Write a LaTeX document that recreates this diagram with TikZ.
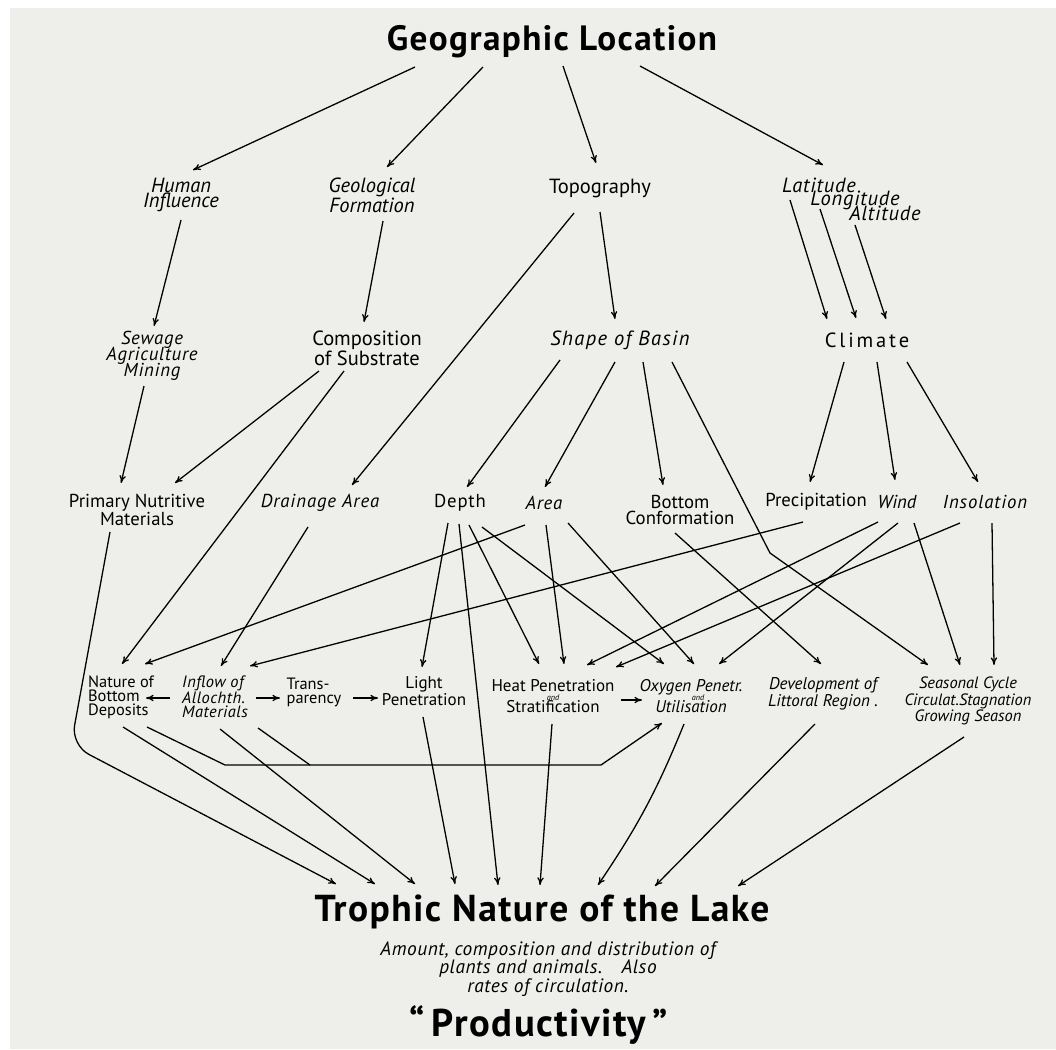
\documentclass[tikz,border=0pt]{standalone}
\usepackage{fontspec}
\setmainfont{PT Sans}
\usetikzlibrary{arrows.meta}

\definecolor{paper}{RGB}{238,238,235}
\newcommand{\tightlines}{\lineskiplimit -20pt\relax}

\tikzset{
  conn/.style={->, line width=1.1pt},
  head/.style={font=\fontsize{#1}{30}\selectfont\bfseries\addfontfeature{LetterSpace=4}, inner sep=0pt},
  lvl/.style={font=\fontsize{17.5}{13.5}\selectfont#1, align=center, inner sep=0pt},
  lvl/.default={},
  mid/.style={font=\fontsize{16}{13}\selectfont#1, align=center, inner sep=0pt},
  mid/.default={},
  low/.style={font=\fontsize{14.5}{12.5}\selectfont#1, align=center, inner sep=0pt},
  low/.default={},
  lowleft/.style={font=\fontsize{14}{12}\selectfont#1, align=left, inner sep=0pt},
  lowleft/.default={}
}

\begin{document}
\begin{tikzpicture}[x=0.3mm, y=-0.3mm, >={To[length=6.5pt,width=5.5pt]}]
  \useasboundingbox (0,0) rectangle (1056,1049);
  \fill[white] (0,0) rectangle (1056,1049);
  \fill[paper] (10,8) rectangle (1056,1049);

  % top
  \node[head=30] (geo) at (552,42) {Geographic Location};

  % second row
  \node[lvl=\itshape] (human) at (181,195) {Human\\Influence};
  \node[lvl=\itshape] (geol) at (372,195) {Geological\\Formation};
  \node[lvl] (topo) at (600,188) {Topography};
  \node[lvl=\itshape\addfontfeature{LetterSpace=4}] (lat) at (819,185) {Latitude};
  \node[lvl=\itshape\addfontfeature{LetterSpace=4}] (lon) at (855,200) {Longitude};
  \node[lvl=\itshape\addfontfeature{LetterSpace=4}] (alt) at (885,213) {Altitude};

  % third row
  \node[lvl, font={\fontsize{16}{13.5}\selectfont\itshape\addfontfeature{LetterSpace=4}\tightlines}] (sewage) at (152,356) {Sewage\\Agriculture\\Mining};
  \node[lvl] (comp) at (367,348) {Composition\\of Substrate};
  \node[lvl=\itshape\addfontfeature{LetterSpace=7}] (shape) at (620,340) {Shape of Basin};
  \node[lvl=\addfontfeature{LetterSpace=14}] (climate) at (867,340) {Climate};

  % fourth row
  \node[mid] (primary) at (137,510) {Primary Nutritive\\Materials};
  \node[mid=\itshape\addfontfeature{LetterSpace=5}] (drain) at (320,503) {Drainage Area};
  \node[mid=\addfontfeature{LetterSpace=4}] (depth) at (460,503) {Depth};
  \node[mid=\itshape\addfontfeature{LetterSpace=4}] (area) at (544,503) {Area};
  \node[mid] (bottom) at (680,510) {Bottom\\Conformation};
  \node[mid] (precip) at (816,502) {Precipitation};
  \node[mid=\itshape] (wind) at (897,502) {Wind};
  \node[mid=\itshape\addfontfeature{LetterSpace=5}] (insol) at (985,502) {Insolation};

  % fifth row
  \node[lowleft] (nature) at (121,697) {Nature of\\Bottom\\Deposits};
  \node[lowleft=\itshape\addfontfeature{LetterSpace=3}] (inflow) at (215,697) {Inflow of\\Allochth.\\Materials};
  \node[lowleft] (transp) at (314,692) {Trans-\\parency};
  \node[low] (light) at (424,691) {Light\\Penetration};
  \node[low] (heat) at (553,696) {Heat Penetration\\[-5pt]{\fontsize{7}{7}\selectfont\itshape and}\\[-2.5pt]Stratification};
  \node[low=\itshape] (oxy) at (691,696) {Oxygen Penetr.\\[-5pt]{\fontsize{7}{7}\selectfont\hspace{12pt}and}\\[-2.5pt]Utilisation};
  \node[low=\itshape] (devel) at (823,694) {Development of\\Littoral Region~.};
  \node[low=\itshape, font=\fontsize{14}{11.5}\selectfont\itshape] (season) at (968,701) {Seasonal Cycle\\Circulat.Stagnation\\Growing Season};

  % bottom
  \node[head=32] (trophic) at (542,912) {Trophic Nature of the Lake};
  \node[lvl, font=\fontsize{16.5}{16}\selectfont\itshape\addfontfeature{LetterSpace=3}] (amount) at (548,969) {Amount, composition and distribution of\\plants and animals.\quad Also\\rates of circulation.};
  \node[head=33] (prod) at (539,1025) {“\,Productivity\,”};

  % from Geographic Location
  \draw[conn] ([shift={(-137,25)}]geo.center) -- ([shift={(12,-25)}]human.center);
  \draw[conn] ([shift={(-69,25)}]geo.center) -- ([shift={(15,-28)}]geol.center);
  \draw[conn] ([shift={(11,24)}]geo.center) -- ([shift={(-4,-25)}]topo.center);
  \draw[conn] ([shift={(88,24)}]geo.center) -- ([shift={(4,-20)}]lat.center);

  % second to third row
  \draw[conn] ([shift={(0,25)}]human.center) -- ([shift={(2,-30)}]sewage.center);
  \draw[conn] ([shift={(11,26)}]geol.center) -- ([shift={(-3,-26)}]comp.center);
  \draw[conn] ([shift={(0,24)}]topo.center) -- ([shift={(-5,-21)}]shape.center);
  \draw[conn] ([shift={(-26,25)}]topo.center) -- ([shift={(32,-18)}]drain.center);
  \draw[conn] ([shift={(-29,15)}]lat.center) -- ([shift={(-40,-21)}]climate.center);
  \draw[conn] ([shift={(-35,9)}]lon.center) -- ([shift={(-11,-22)}]climate.center);
  \draw[conn] ([shift={(-30,12)}]alt.center) -- ([shift={(19,-21)}]climate.center);

  % third to fourth row
  \draw[conn] ([shift={(-8,30)}]sewage.center) -- ([shift={(-16,-27)}]primary.center);
  \draw[conn] ([shift={(-48,23)}]comp.center) -- ([shift={(38,-27)}]primary.center);
  \draw[conn] ([shift={(-23,23)}]comp.center) -- ([shift={(1,-33)}]nature.center);
  \draw[conn] ([shift={(-60,20)}]shape.center) -- ([shift={(7,-16)}]depth.center);
  \draw[conn] ([shift={(-5,22)}]shape.center) -- ([shift={(1,-16)}]area.center);
  \draw[conn] ([shift={(23,22)}]shape.center) -- ([shift={(-17,-25)}]bottom.center);
  \coordinate (shapebend) at (770,553);
  \draw[conn] ([shift={(52,22)}]shape.center) -- (shapebend) -- ([shift={(-40,-36)}]season.center);
  \draw[conn] ([shift={(-23,22)}]climate.center) -- ([shift={(-6,-20)}]precip.center);
  \draw[conn] ([shift={(10,22)}]climate.center) -- ([shift={(-2,-22)}]wind.center);
  \draw[conn] ([shift={(40,22)}]climate.center) -- ([shift={(-7,-20)}]insol.center);

  % fourth to fifth row
  \draw[conn] ([shift={(-12,24)}]drain.center) -- ([shift={(6,-31)}]inflow.center);
  \draw[conn] ([shift={(-12,20)}]depth.center) -- ([shift={(-2,-24)}]light.center);
  \draw[conn] ([shift={(9,22)}]depth.center) -- ([shift={(-14,-32)}]heat.center);
  \draw[conn] ([shift={(22,24)}]depth.center) -- ([shift={(-27,-32)}]oxy.center);
  \draw[conn] ([shift={(-19,22)}]area.center) -- ([shift={(24,-33)}]nature.center);
  \draw[conn] ([shift={(2,22)}]area.center) -- ([shift={(11,-32)}]heat.center);
  \draw[conn] ([shift={(24,20)}]area.center) -- ([shift={(3,-32)}]oxy.center);
  \draw[conn] ([shift={(-5,23)}]bottom.center) -- ([shift={(-2,-30)}]devel.center);
  \draw[conn] ([shift={(-13,20)}]precip.center) -- ([shift={(35,-31)}]inflow.center);
  \draw[conn] ([shift={(-19,20)}]wind.center) -- ([shift={(34,-31)}]heat.center);
  \draw[conn] ([shift={(1,21)}]wind.center) -- ([shift={(28,-32)}]oxy.center);
  \draw[conn] ([shift={(17,21)}]wind.center) -- ([shift={(-8,-36)}]season.center);
  \draw[conn] ([shift={(-25,21)}]insol.center) -- ([shift={(63,-29)}]heat.center);
  \draw[conn] ([shift={(7,21)}]insol.center) -- ([shift={(26,-36)}]season.center);

  % within the fifth row
  \draw[conn] ([shift={(-45,1)}]inflow.center) -- ([shift={(25,1)}]nature.center);
  \draw[conn] ([shift={(41,1)}]inflow.center) -- ([shift={(-34,6)}]transp.center);
  \draw[conn] ([shift={(39,6)}]transp.center) -- ([shift={(-46,7)}]light.center);
  \draw[conn] ([shift={(68,4)}]heat.center) -- ([shift={(-49,4)}]oxy.center);
  \coordinate (feedL) at (225,765);
  \coordinate (feedM) at (310,765);
  \coordinate (feedR) at (601,765);
  \draw[conn] ([shift={(26,30)}]nature.center) -- (feedL) -- (feedR) -- ([shift={(-29,27)}]oxy.center);
  \draw[line width=1.1pt] ([shift={(43,31)}]inflow.center) -- (feedM);

  % into the Trophic Nature of the Lake
  \coordinate (primbend) at (71,745);
  \draw[conn, rounded corners=6mm] ([shift={(-27,22)}]primary.center) -- (primbend) -- ([shift={(-206,-28)}]trophic.center);
  \draw[conn] ([shift={(2,30)}]nature.center) -- ([shift={(-167,-28)}]trophic.center);
  \draw[conn] ([shift={(5,32)}]inflow.center) -- ([shift={(-127,-28)}]trophic.center);
  \draw[conn] ([shift={(-1,26)}]light.center) -- ([shift={(-87,-28)}]trophic.center);
  \draw[conn] ([shift={(-1,21)}]depth.center) -- ([shift={(-44,-27)}]trophic.center);
  \draw[conn] ([shift={(-1,28)}]heat.center) -- ([shift={(-2,-27)}]trophic.center);
  \draw[conn] ([shift={(-7,28)}]oxy.center) to[bend left=6] ([shift={(56,-27)}]trophic.center);
  \draw[conn] ([shift={(-8,30)}]devel.center) -- ([shift={(113,-26)}]trophic.center);
  \draw[conn] ([shift={(-4,36)}]season.center) -- ([shift={(196,-26)}]trophic.center);
\end{tikzpicture}
\end{document}
